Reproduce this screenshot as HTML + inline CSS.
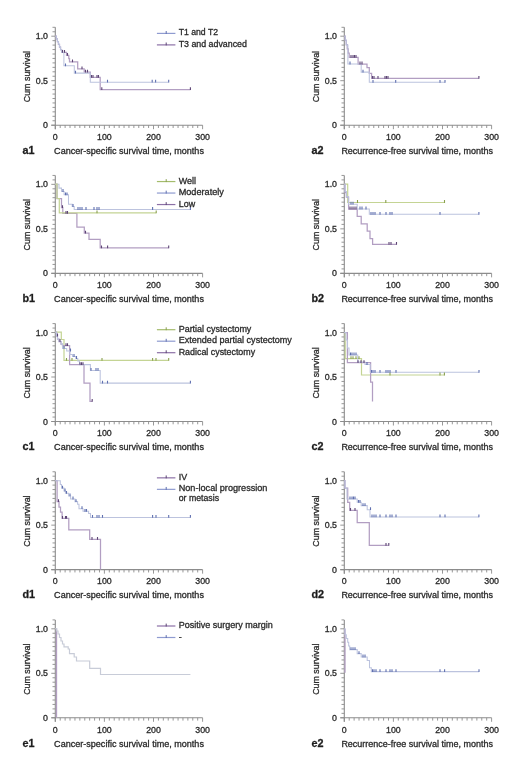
<!DOCTYPE html>
<html><head><meta charset="utf-8"><title>Survival curves</title>
<style>
html,body{margin:0;padding:0;background:#fff;}
body{width:520px;height:778px;overflow:hidden;}
svg{display:block;will-change:transform;}
text{font-family:"Liberation Sans", sans-serif;fill:#2a2a2a;stroke:#2a2a2a;stroke-width:0.3px;}
.tl{font-size:8.8px;}
.yt{font-size:8.9px;}
.pl{font-size:10.8px;font-weight:bold;fill:#1a1a1a;}
.xt{font-size:9.05px;}
.lg{font-size:8.9px;}
</style></head>
<body>
<svg width="520" height="778" viewBox="0 0 520 778">
<rect width="520" height="778" fill="#fff"/>
<line x1="55.30" y1="27.30" x2="55.30" y2="129.20" stroke="#8c8c8c" stroke-width="1.1"/>
<line x1="51.30" y1="125.20" x2="202.60" y2="125.20" stroke="#8c8c8c" stroke-width="1.1"/>
<path d="M51.30 125.20H55.30M52.50 120.75H55.30M52.50 116.30H55.30M52.50 111.85H55.30M52.50 107.40H55.30M52.50 102.95H55.30M52.50 98.50H55.30M52.50 94.05H55.30M52.50 89.60H55.30M52.50 85.15H55.30M51.30 80.70H55.30M52.50 76.25H55.30M52.50 71.80H55.30M52.50 67.35H55.30M52.50 62.90H55.30M52.50 58.45H55.30M52.50 54.00H55.30M52.50 49.55H55.30M52.50 45.10H55.30M52.50 40.65H55.30M51.30 36.20H55.30M52.50 31.75H55.30M52.50 27.30H55.30M55.30 125.20V129.20M60.21 125.20V128.00M65.12 125.20V128.00M70.03 125.20V128.00M74.94 125.20V128.00M79.85 125.20V128.00M84.76 125.20V128.00M89.67 125.20V128.00M94.58 125.20V128.00M99.49 125.20V128.00M104.40 125.20V129.20M109.31 125.20V128.00M114.22 125.20V128.00M119.13 125.20V128.00M124.04 125.20V128.00M128.95 125.20V128.00M133.86 125.20V128.00M138.77 125.20V128.00M143.68 125.20V128.00M148.59 125.20V128.00M153.50 125.20V129.20M158.41 125.20V128.00M163.32 125.20V128.00M168.23 125.20V128.00M173.14 125.20V128.00M178.05 125.20V128.00M182.96 125.20V128.00M187.87 125.20V128.00M192.78 125.20V128.00M197.69 125.20V128.00M202.60 125.20V129.20" stroke="#8c8c8c" stroke-width="0.9" fill="none"/>
<text x="48.00" y="39.30" text-anchor="end" class="tl">1.0</text>
<text x="48.00" y="83.80" text-anchor="end" class="tl">0.5</text>
<text x="48.00" y="128.30" text-anchor="end" class="tl">0</text>
<text x="55.30" y="140.00" text-anchor="middle" class="tl">0</text>
<text x="104.40" y="140.00" text-anchor="middle" class="tl">100</text>
<text x="153.50" y="140.00" text-anchor="middle" class="tl">200</text>
<text x="202.60" y="140.00" text-anchor="middle" class="tl">300</text>
<text x="0" y="0" transform="translate(29.50,76.60) rotate(-90)" text-anchor="middle" class="yt">Cum survival</text>
<text x="22.40" y="154.00" class="pl">a1</text>
<text x="54.10" y="154.00" class="xt">Cancer-specific survival time, months</text>
<line x1="344.30" y1="27.30" x2="344.30" y2="129.20" stroke="#8c8c8c" stroke-width="1.1"/>
<line x1="340.30" y1="125.20" x2="491.60" y2="125.20" stroke="#8c8c8c" stroke-width="1.1"/>
<path d="M340.30 125.20H344.30M341.50 120.75H344.30M341.50 116.30H344.30M341.50 111.85H344.30M341.50 107.40H344.30M341.50 102.95H344.30M341.50 98.50H344.30M341.50 94.05H344.30M341.50 89.60H344.30M341.50 85.15H344.30M340.30 80.70H344.30M341.50 76.25H344.30M341.50 71.80H344.30M341.50 67.35H344.30M341.50 62.90H344.30M341.50 58.45H344.30M341.50 54.00H344.30M341.50 49.55H344.30M341.50 45.10H344.30M341.50 40.65H344.30M340.30 36.20H344.30M341.50 31.75H344.30M341.50 27.30H344.30M344.30 125.20V129.20M349.21 125.20V128.00M354.12 125.20V128.00M359.03 125.20V128.00M363.94 125.20V128.00M368.85 125.20V128.00M373.76 125.20V128.00M378.67 125.20V128.00M383.58 125.20V128.00M388.49 125.20V128.00M393.40 125.20V129.20M398.31 125.20V128.00M403.22 125.20V128.00M408.13 125.20V128.00M413.04 125.20V128.00M417.95 125.20V128.00M422.86 125.20V128.00M427.77 125.20V128.00M432.68 125.20V128.00M437.59 125.20V128.00M442.50 125.20V129.20M447.41 125.20V128.00M452.32 125.20V128.00M457.23 125.20V128.00M462.14 125.20V128.00M467.05 125.20V128.00M471.96 125.20V128.00M476.87 125.20V128.00M481.78 125.20V128.00M486.69 125.20V128.00M491.60 125.20V129.20" stroke="#8c8c8c" stroke-width="0.9" fill="none"/>
<text x="337.00" y="39.30" text-anchor="end" class="tl">1.0</text>
<text x="337.00" y="83.80" text-anchor="end" class="tl">0.5</text>
<text x="337.00" y="128.30" text-anchor="end" class="tl">0</text>
<text x="344.30" y="140.00" text-anchor="middle" class="tl">0</text>
<text x="393.40" y="140.00" text-anchor="middle" class="tl">100</text>
<text x="442.50" y="140.00" text-anchor="middle" class="tl">200</text>
<text x="491.60" y="140.00" text-anchor="middle" class="tl">300</text>
<text x="0" y="0" transform="translate(318.50,76.60) rotate(-90)" text-anchor="middle" class="yt">Cum survival</text>
<text x="311.40" y="154.00" class="pl">a2</text>
<text x="341.40" y="154.00" class="xt" style="font-size:8.97px">Recurrence-free survival time, months</text>
<line x1="55.30" y1="175.45" x2="55.30" y2="277.35" stroke="#8c8c8c" stroke-width="1.1"/>
<line x1="51.30" y1="273.35" x2="202.60" y2="273.35" stroke="#8c8c8c" stroke-width="1.1"/>
<path d="M51.30 273.35H55.30M52.50 268.90H55.30M52.50 264.45H55.30M52.50 260.00H55.30M52.50 255.55H55.30M52.50 251.10H55.30M52.50 246.65H55.30M52.50 242.20H55.30M52.50 237.75H55.30M52.50 233.30H55.30M51.30 228.85H55.30M52.50 224.40H55.30M52.50 219.95H55.30M52.50 215.50H55.30M52.50 211.05H55.30M52.50 206.60H55.30M52.50 202.15H55.30M52.50 197.70H55.30M52.50 193.25H55.30M52.50 188.80H55.30M51.30 184.35H55.30M52.50 179.90H55.30M52.50 175.45H55.30M55.30 273.35V277.35M60.21 273.35V276.15M65.12 273.35V276.15M70.03 273.35V276.15M74.94 273.35V276.15M79.85 273.35V276.15M84.76 273.35V276.15M89.67 273.35V276.15M94.58 273.35V276.15M99.49 273.35V276.15M104.40 273.35V277.35M109.31 273.35V276.15M114.22 273.35V276.15M119.13 273.35V276.15M124.04 273.35V276.15M128.95 273.35V276.15M133.86 273.35V276.15M138.77 273.35V276.15M143.68 273.35V276.15M148.59 273.35V276.15M153.50 273.35V277.35M158.41 273.35V276.15M163.32 273.35V276.15M168.23 273.35V276.15M173.14 273.35V276.15M178.05 273.35V276.15M182.96 273.35V276.15M187.87 273.35V276.15M192.78 273.35V276.15M197.69 273.35V276.15M202.60 273.35V277.35" stroke="#8c8c8c" stroke-width="0.9" fill="none"/>
<text x="48.00" y="187.45" text-anchor="end" class="tl">1.0</text>
<text x="48.00" y="231.95" text-anchor="end" class="tl">0.5</text>
<text x="48.00" y="276.45" text-anchor="end" class="tl">0</text>
<text x="55.30" y="288.15" text-anchor="middle" class="tl">0</text>
<text x="104.40" y="288.15" text-anchor="middle" class="tl">100</text>
<text x="153.50" y="288.15" text-anchor="middle" class="tl">200</text>
<text x="202.60" y="288.15" text-anchor="middle" class="tl">300</text>
<text x="0" y="0" transform="translate(29.50,224.75) rotate(-90)" text-anchor="middle" class="yt">Cum survival</text>
<text x="22.40" y="302.15" class="pl">b1</text>
<text x="54.10" y="302.15" class="xt">Cancer-specific survival time, months</text>
<line x1="344.30" y1="175.45" x2="344.30" y2="277.35" stroke="#8c8c8c" stroke-width="1.1"/>
<line x1="340.30" y1="273.35" x2="491.60" y2="273.35" stroke="#8c8c8c" stroke-width="1.1"/>
<path d="M340.30 273.35H344.30M341.50 268.90H344.30M341.50 264.45H344.30M341.50 260.00H344.30M341.50 255.55H344.30M341.50 251.10H344.30M341.50 246.65H344.30M341.50 242.20H344.30M341.50 237.75H344.30M341.50 233.30H344.30M340.30 228.85H344.30M341.50 224.40H344.30M341.50 219.95H344.30M341.50 215.50H344.30M341.50 211.05H344.30M341.50 206.60H344.30M341.50 202.15H344.30M341.50 197.70H344.30M341.50 193.25H344.30M341.50 188.80H344.30M340.30 184.35H344.30M341.50 179.90H344.30M341.50 175.45H344.30M344.30 273.35V277.35M349.21 273.35V276.15M354.12 273.35V276.15M359.03 273.35V276.15M363.94 273.35V276.15M368.85 273.35V276.15M373.76 273.35V276.15M378.67 273.35V276.15M383.58 273.35V276.15M388.49 273.35V276.15M393.40 273.35V277.35M398.31 273.35V276.15M403.22 273.35V276.15M408.13 273.35V276.15M413.04 273.35V276.15M417.95 273.35V276.15M422.86 273.35V276.15M427.77 273.35V276.15M432.68 273.35V276.15M437.59 273.35V276.15M442.50 273.35V277.35M447.41 273.35V276.15M452.32 273.35V276.15M457.23 273.35V276.15M462.14 273.35V276.15M467.05 273.35V276.15M471.96 273.35V276.15M476.87 273.35V276.15M481.78 273.35V276.15M486.69 273.35V276.15M491.60 273.35V277.35" stroke="#8c8c8c" stroke-width="0.9" fill="none"/>
<text x="337.00" y="187.45" text-anchor="end" class="tl">1.0</text>
<text x="337.00" y="231.95" text-anchor="end" class="tl">0.5</text>
<text x="337.00" y="276.45" text-anchor="end" class="tl">0</text>
<text x="344.30" y="288.15" text-anchor="middle" class="tl">0</text>
<text x="393.40" y="288.15" text-anchor="middle" class="tl">100</text>
<text x="442.50" y="288.15" text-anchor="middle" class="tl">200</text>
<text x="491.60" y="288.15" text-anchor="middle" class="tl">300</text>
<text x="0" y="0" transform="translate(318.50,224.75) rotate(-90)" text-anchor="middle" class="yt">Cum survival</text>
<text x="311.40" y="302.15" class="pl">b2</text>
<text x="341.40" y="302.15" class="xt" style="font-size:8.97px">Recurrence-free survival time, months</text>
<line x1="55.30" y1="323.60" x2="55.30" y2="425.50" stroke="#8c8c8c" stroke-width="1.1"/>
<line x1="51.30" y1="421.50" x2="202.60" y2="421.50" stroke="#8c8c8c" stroke-width="1.1"/>
<path d="M51.30 421.50H55.30M52.50 417.05H55.30M52.50 412.60H55.30M52.50 408.15H55.30M52.50 403.70H55.30M52.50 399.25H55.30M52.50 394.80H55.30M52.50 390.35H55.30M52.50 385.90H55.30M52.50 381.45H55.30M51.30 377.00H55.30M52.50 372.55H55.30M52.50 368.10H55.30M52.50 363.65H55.30M52.50 359.20H55.30M52.50 354.75H55.30M52.50 350.30H55.30M52.50 345.85H55.30M52.50 341.40H55.30M52.50 336.95H55.30M51.30 332.50H55.30M52.50 328.05H55.30M52.50 323.60H55.30M55.30 421.50V425.50M60.21 421.50V424.30M65.12 421.50V424.30M70.03 421.50V424.30M74.94 421.50V424.30M79.85 421.50V424.30M84.76 421.50V424.30M89.67 421.50V424.30M94.58 421.50V424.30M99.49 421.50V424.30M104.40 421.50V425.50M109.31 421.50V424.30M114.22 421.50V424.30M119.13 421.50V424.30M124.04 421.50V424.30M128.95 421.50V424.30M133.86 421.50V424.30M138.77 421.50V424.30M143.68 421.50V424.30M148.59 421.50V424.30M153.50 421.50V425.50M158.41 421.50V424.30M163.32 421.50V424.30M168.23 421.50V424.30M173.14 421.50V424.30M178.05 421.50V424.30M182.96 421.50V424.30M187.87 421.50V424.30M192.78 421.50V424.30M197.69 421.50V424.30M202.60 421.50V425.50" stroke="#8c8c8c" stroke-width="0.9" fill="none"/>
<text x="48.00" y="335.60" text-anchor="end" class="tl">1.0</text>
<text x="48.00" y="380.10" text-anchor="end" class="tl">0.5</text>
<text x="48.00" y="424.60" text-anchor="end" class="tl">0</text>
<text x="55.30" y="436.30" text-anchor="middle" class="tl">0</text>
<text x="104.40" y="436.30" text-anchor="middle" class="tl">100</text>
<text x="153.50" y="436.30" text-anchor="middle" class="tl">200</text>
<text x="202.60" y="436.30" text-anchor="middle" class="tl">300</text>
<text x="0" y="0" transform="translate(29.50,372.90) rotate(-90)" text-anchor="middle" class="yt">Cum survival</text>
<text x="22.40" y="450.30" class="pl">c1</text>
<text x="54.10" y="450.30" class="xt">Cancer-specific survival time, months</text>
<line x1="344.30" y1="323.60" x2="344.30" y2="425.50" stroke="#8c8c8c" stroke-width="1.1"/>
<line x1="340.30" y1="421.50" x2="491.60" y2="421.50" stroke="#8c8c8c" stroke-width="1.1"/>
<path d="M340.30 421.50H344.30M341.50 417.05H344.30M341.50 412.60H344.30M341.50 408.15H344.30M341.50 403.70H344.30M341.50 399.25H344.30M341.50 394.80H344.30M341.50 390.35H344.30M341.50 385.90H344.30M341.50 381.45H344.30M340.30 377.00H344.30M341.50 372.55H344.30M341.50 368.10H344.30M341.50 363.65H344.30M341.50 359.20H344.30M341.50 354.75H344.30M341.50 350.30H344.30M341.50 345.85H344.30M341.50 341.40H344.30M341.50 336.95H344.30M340.30 332.50H344.30M341.50 328.05H344.30M341.50 323.60H344.30M344.30 421.50V425.50M349.21 421.50V424.30M354.12 421.50V424.30M359.03 421.50V424.30M363.94 421.50V424.30M368.85 421.50V424.30M373.76 421.50V424.30M378.67 421.50V424.30M383.58 421.50V424.30M388.49 421.50V424.30M393.40 421.50V425.50M398.31 421.50V424.30M403.22 421.50V424.30M408.13 421.50V424.30M413.04 421.50V424.30M417.95 421.50V424.30M422.86 421.50V424.30M427.77 421.50V424.30M432.68 421.50V424.30M437.59 421.50V424.30M442.50 421.50V425.50M447.41 421.50V424.30M452.32 421.50V424.30M457.23 421.50V424.30M462.14 421.50V424.30M467.05 421.50V424.30M471.96 421.50V424.30M476.87 421.50V424.30M481.78 421.50V424.30M486.69 421.50V424.30M491.60 421.50V425.50" stroke="#8c8c8c" stroke-width="0.9" fill="none"/>
<text x="337.00" y="335.60" text-anchor="end" class="tl">1.0</text>
<text x="337.00" y="380.10" text-anchor="end" class="tl">0.5</text>
<text x="337.00" y="424.60" text-anchor="end" class="tl">0</text>
<text x="344.30" y="436.30" text-anchor="middle" class="tl">0</text>
<text x="393.40" y="436.30" text-anchor="middle" class="tl">100</text>
<text x="442.50" y="436.30" text-anchor="middle" class="tl">200</text>
<text x="491.60" y="436.30" text-anchor="middle" class="tl">300</text>
<text x="0" y="0" transform="translate(318.50,372.90) rotate(-90)" text-anchor="middle" class="yt">Cum survival</text>
<text x="311.40" y="450.30" class="pl">c2</text>
<text x="341.40" y="450.30" class="xt" style="font-size:8.97px">Recurrence-free survival time, months</text>
<line x1="55.30" y1="471.75" x2="55.30" y2="573.65" stroke="#8c8c8c" stroke-width="1.1"/>
<line x1="51.30" y1="569.65" x2="202.60" y2="569.65" stroke="#8c8c8c" stroke-width="1.1"/>
<path d="M51.30 569.65H55.30M52.50 565.20H55.30M52.50 560.75H55.30M52.50 556.30H55.30M52.50 551.85H55.30M52.50 547.40H55.30M52.50 542.95H55.30M52.50 538.50H55.30M52.50 534.05H55.30M52.50 529.60H55.30M51.30 525.15H55.30M52.50 520.70H55.30M52.50 516.25H55.30M52.50 511.80H55.30M52.50 507.35H55.30M52.50 502.90H55.30M52.50 498.45H55.30M52.50 494.00H55.30M52.50 489.55H55.30M52.50 485.10H55.30M51.30 480.65H55.30M52.50 476.20H55.30M52.50 471.75H55.30M55.30 569.65V573.65M60.21 569.65V572.45M65.12 569.65V572.45M70.03 569.65V572.45M74.94 569.65V572.45M79.85 569.65V572.45M84.76 569.65V572.45M89.67 569.65V572.45M94.58 569.65V572.45M99.49 569.65V572.45M104.40 569.65V573.65M109.31 569.65V572.45M114.22 569.65V572.45M119.13 569.65V572.45M124.04 569.65V572.45M128.95 569.65V572.45M133.86 569.65V572.45M138.77 569.65V572.45M143.68 569.65V572.45M148.59 569.65V572.45M153.50 569.65V573.65M158.41 569.65V572.45M163.32 569.65V572.45M168.23 569.65V572.45M173.14 569.65V572.45M178.05 569.65V572.45M182.96 569.65V572.45M187.87 569.65V572.45M192.78 569.65V572.45M197.69 569.65V572.45M202.60 569.65V573.65" stroke="#8c8c8c" stroke-width="0.9" fill="none"/>
<text x="48.00" y="483.75" text-anchor="end" class="tl">1.0</text>
<text x="48.00" y="528.25" text-anchor="end" class="tl">0.5</text>
<text x="48.00" y="572.75" text-anchor="end" class="tl">0</text>
<text x="55.30" y="584.45" text-anchor="middle" class="tl">0</text>
<text x="104.40" y="584.45" text-anchor="middle" class="tl">100</text>
<text x="153.50" y="584.45" text-anchor="middle" class="tl">200</text>
<text x="202.60" y="584.45" text-anchor="middle" class="tl">300</text>
<text x="0" y="0" transform="translate(29.50,521.05) rotate(-90)" text-anchor="middle" class="yt">Cum survival</text>
<text x="22.40" y="598.45" class="pl">d1</text>
<text x="54.10" y="598.45" class="xt">Cancer-specific survival time, months</text>
<line x1="344.30" y1="471.75" x2="344.30" y2="573.65" stroke="#8c8c8c" stroke-width="1.1"/>
<line x1="340.30" y1="569.65" x2="491.60" y2="569.65" stroke="#8c8c8c" stroke-width="1.1"/>
<path d="M340.30 569.65H344.30M341.50 565.20H344.30M341.50 560.75H344.30M341.50 556.30H344.30M341.50 551.85H344.30M341.50 547.40H344.30M341.50 542.95H344.30M341.50 538.50H344.30M341.50 534.05H344.30M341.50 529.60H344.30M340.30 525.15H344.30M341.50 520.70H344.30M341.50 516.25H344.30M341.50 511.80H344.30M341.50 507.35H344.30M341.50 502.90H344.30M341.50 498.45H344.30M341.50 494.00H344.30M341.50 489.55H344.30M341.50 485.10H344.30M340.30 480.65H344.30M341.50 476.20H344.30M341.50 471.75H344.30M344.30 569.65V573.65M349.21 569.65V572.45M354.12 569.65V572.45M359.03 569.65V572.45M363.94 569.65V572.45M368.85 569.65V572.45M373.76 569.65V572.45M378.67 569.65V572.45M383.58 569.65V572.45M388.49 569.65V572.45M393.40 569.65V573.65M398.31 569.65V572.45M403.22 569.65V572.45M408.13 569.65V572.45M413.04 569.65V572.45M417.95 569.65V572.45M422.86 569.65V572.45M427.77 569.65V572.45M432.68 569.65V572.45M437.59 569.65V572.45M442.50 569.65V573.65M447.41 569.65V572.45M452.32 569.65V572.45M457.23 569.65V572.45M462.14 569.65V572.45M467.05 569.65V572.45M471.96 569.65V572.45M476.87 569.65V572.45M481.78 569.65V572.45M486.69 569.65V572.45M491.60 569.65V573.65" stroke="#8c8c8c" stroke-width="0.9" fill="none"/>
<text x="337.00" y="483.75" text-anchor="end" class="tl">1.0</text>
<text x="337.00" y="528.25" text-anchor="end" class="tl">0.5</text>
<text x="337.00" y="572.75" text-anchor="end" class="tl">0</text>
<text x="344.30" y="584.45" text-anchor="middle" class="tl">0</text>
<text x="393.40" y="584.45" text-anchor="middle" class="tl">100</text>
<text x="442.50" y="584.45" text-anchor="middle" class="tl">200</text>
<text x="491.60" y="584.45" text-anchor="middle" class="tl">300</text>
<text x="0" y="0" transform="translate(318.50,521.05) rotate(-90)" text-anchor="middle" class="yt">Cum survival</text>
<text x="311.40" y="598.45" class="pl">d2</text>
<text x="341.40" y="598.45" class="xt" style="font-size:8.97px">Recurrence-free survival time, months</text>
<line x1="55.30" y1="619.90" x2="55.30" y2="721.80" stroke="#8c8c8c" stroke-width="1.1"/>
<line x1="51.30" y1="717.80" x2="202.60" y2="717.80" stroke="#8c8c8c" stroke-width="1.1"/>
<path d="M51.30 717.80H55.30M52.50 713.35H55.30M52.50 708.90H55.30M52.50 704.45H55.30M52.50 700.00H55.30M52.50 695.55H55.30M52.50 691.10H55.30M52.50 686.65H55.30M52.50 682.20H55.30M52.50 677.75H55.30M51.30 673.30H55.30M52.50 668.85H55.30M52.50 664.40H55.30M52.50 659.95H55.30M52.50 655.50H55.30M52.50 651.05H55.30M52.50 646.60H55.30M52.50 642.15H55.30M52.50 637.70H55.30M52.50 633.25H55.30M51.30 628.80H55.30M52.50 624.35H55.30M52.50 619.90H55.30M55.30 717.80V721.80M60.21 717.80V720.60M65.12 717.80V720.60M70.03 717.80V720.60M74.94 717.80V720.60M79.85 717.80V720.60M84.76 717.80V720.60M89.67 717.80V720.60M94.58 717.80V720.60M99.49 717.80V720.60M104.40 717.80V721.80M109.31 717.80V720.60M114.22 717.80V720.60M119.13 717.80V720.60M124.04 717.80V720.60M128.95 717.80V720.60M133.86 717.80V720.60M138.77 717.80V720.60M143.68 717.80V720.60M148.59 717.80V720.60M153.50 717.80V721.80M158.41 717.80V720.60M163.32 717.80V720.60M168.23 717.80V720.60M173.14 717.80V720.60M178.05 717.80V720.60M182.96 717.80V720.60M187.87 717.80V720.60M192.78 717.80V720.60M197.69 717.80V720.60M202.60 717.80V721.80" stroke="#8c8c8c" stroke-width="0.9" fill="none"/>
<text x="48.00" y="631.90" text-anchor="end" class="tl">1.0</text>
<text x="48.00" y="676.40" text-anchor="end" class="tl">0.5</text>
<text x="48.00" y="720.90" text-anchor="end" class="tl">0</text>
<text x="55.30" y="732.60" text-anchor="middle" class="tl">0</text>
<text x="104.40" y="732.60" text-anchor="middle" class="tl">100</text>
<text x="153.50" y="732.60" text-anchor="middle" class="tl">200</text>
<text x="202.60" y="732.60" text-anchor="middle" class="tl">300</text>
<text x="0" y="0" transform="translate(29.50,669.20) rotate(-90)" text-anchor="middle" class="yt">Cum survival</text>
<text x="22.40" y="746.60" class="pl">e1</text>
<text x="54.10" y="746.60" class="xt">Cancer-specific survival time, months</text>
<line x1="344.30" y1="619.90" x2="344.30" y2="721.80" stroke="#8c8c8c" stroke-width="1.1"/>
<line x1="340.30" y1="717.80" x2="491.60" y2="717.80" stroke="#8c8c8c" stroke-width="1.1"/>
<path d="M340.30 717.80H344.30M341.50 713.35H344.30M341.50 708.90H344.30M341.50 704.45H344.30M341.50 700.00H344.30M341.50 695.55H344.30M341.50 691.10H344.30M341.50 686.65H344.30M341.50 682.20H344.30M341.50 677.75H344.30M340.30 673.30H344.30M341.50 668.85H344.30M341.50 664.40H344.30M341.50 659.95H344.30M341.50 655.50H344.30M341.50 651.05H344.30M341.50 646.60H344.30M341.50 642.15H344.30M341.50 637.70H344.30M341.50 633.25H344.30M340.30 628.80H344.30M341.50 624.35H344.30M341.50 619.90H344.30M344.30 717.80V721.80M349.21 717.80V720.60M354.12 717.80V720.60M359.03 717.80V720.60M363.94 717.80V720.60M368.85 717.80V720.60M373.76 717.80V720.60M378.67 717.80V720.60M383.58 717.80V720.60M388.49 717.80V720.60M393.40 717.80V721.80M398.31 717.80V720.60M403.22 717.80V720.60M408.13 717.80V720.60M413.04 717.80V720.60M417.95 717.80V720.60M422.86 717.80V720.60M427.77 717.80V720.60M432.68 717.80V720.60M437.59 717.80V720.60M442.50 717.80V721.80M447.41 717.80V720.60M452.32 717.80V720.60M457.23 717.80V720.60M462.14 717.80V720.60M467.05 717.80V720.60M471.96 717.80V720.60M476.87 717.80V720.60M481.78 717.80V720.60M486.69 717.80V720.60M491.60 717.80V721.80" stroke="#8c8c8c" stroke-width="0.9" fill="none"/>
<text x="337.00" y="631.90" text-anchor="end" class="tl">1.0</text>
<text x="337.00" y="676.40" text-anchor="end" class="tl">0.5</text>
<text x="337.00" y="720.90" text-anchor="end" class="tl">0</text>
<text x="344.30" y="732.60" text-anchor="middle" class="tl">0</text>
<text x="393.40" y="732.60" text-anchor="middle" class="tl">100</text>
<text x="442.50" y="732.60" text-anchor="middle" class="tl">200</text>
<text x="491.60" y="732.60" text-anchor="middle" class="tl">300</text>
<text x="0" y="0" transform="translate(318.50,669.20) rotate(-90)" text-anchor="middle" class="yt">Cum survival</text>
<text x="311.40" y="746.60" class="pl">e2</text>
<text x="341.40" y="746.60" class="xt" style="font-size:8.97px">Recurrence-free survival time, months</text>
<path d="M55.30 36.20 L56.35 36.20 L56.35 38.90 L57.40 38.90 L57.40 41.60 L58.45 41.60 L58.45 44.30 L59.50 44.30 L59.50 47.00 L60.55 47.00 L60.55 49.70 L61.60 49.70 L61.60 52.40 L66.50 52.40 L66.50 55.40 L68.80 55.40 L68.80 58.50 L69.50 58.50 L69.50 61.90 L77.70 61.90 L77.70 68.80 L84.20 68.80 L84.20 72.20 L90.30 72.20 L90.30 77.40 L100.20 77.40 L100.20 89.70 L190.40 89.70" stroke="#b29ec2" stroke-width="1.25" fill="none" />
<path d="M55.30 36.20 L56.35 36.20 L56.35 38.90 L57.40 38.90 L57.40 41.60 L58.45 41.60 L58.45 44.30 L59.50 44.30 L59.50 47.00 L60.55 47.00 L60.55 49.70 L61.60 49.70 L61.60 52.40 L63.90 52.40 L63.90 65.80 L74.30 65.80 L74.30 73.10 L90.30 73.10 L90.30 82.20 L168.70 82.20" stroke="#bcc3de" stroke-width="1.05" fill="none" />
<path d="M62.50 52.80V50.00M64.50 52.80V50.00M67.50 55.80V53.00M72.50 62.30V59.50M82.00 69.20V66.40M85.50 72.60V69.80M87.50 72.60V69.80M91.50 77.80V75.00M93.00 77.80V75.00M97.00 77.80V75.00M98.50 77.80V75.00M101.80 90.10V87.30M190.40 90.10V87.30" stroke="#5c4474" stroke-width="1.1" fill="none"/>
<path d="M65.50 66.20V63.40M75.50 73.50V70.70M107.50 82.60V79.80M152.20 82.60V79.80M155.60 82.60V79.80M168.70 82.60V79.80" stroke="#6070b0" stroke-width="1.1" fill="none"/>
<line x1="156.9" y1="33.40" x2="175.4" y2="33.40" stroke="#8f9bd0" stroke-width="1.2"/>
<line x1="166.2" y1="33.90" x2="166.2" y2="31.00" stroke="#6070b0" stroke-width="1"/>
<text x="178.7" y="35.40" class="lg" style="font-size:8.68px">T1 and T2</text>
<line x1="156.9" y1="44.90" x2="175.4" y2="44.90" stroke="#8c70a6" stroke-width="1.2"/>
<line x1="166.2" y1="45.40" x2="166.2" y2="42.50" stroke="#5c4474" stroke-width="1"/>
<text x="178.7" y="46.90" class="lg" style="font-size:8.84px">T3 and advanced</text>
<path d="M344.30 36.20 L345.28 36.20 L345.28 40.42 L346.26 40.42 L346.26 44.64 L347.24 44.64 L347.24 48.86 L348.22 48.86 L348.22 53.08 L349.20 53.08 L349.20 57.30 L358.10 57.30 L358.10 64.00 L367.00 64.00 L367.00 67.50 L369.30 67.50 L369.30 73.30 L371.60 73.30 L371.60 78.30 L478.90 78.30" stroke="#b29ec2" stroke-width="1.25" fill="none" />
<path d="M344.30 36.20 L345.20 36.20 L345.20 40.00 L346.20 40.00 L346.20 45.00 L347.90 45.00 L347.90 64.00 L361.20 64.00 L361.20 72.10 L369.30 72.10 L369.30 82.30 L445.00 82.30" stroke="#bcc3de" stroke-width="1.05" fill="none" />
<path d="M351.00 57.70V54.90M353.00 57.70V54.90M354.50 57.70V54.90M356.00 57.70V54.90M360.00 64.40V61.60M362.00 64.40V61.60M372.50 78.70V75.90M374.00 78.70V75.90M378.00 78.70V75.90M385.00 78.70V75.90M386.50 78.70V75.90M388.00 78.70V75.90M478.90 78.70V75.90" stroke="#5c4474" stroke-width="1.1" fill="none"/>
<path d="M350.00 64.40V61.60M363.00 72.50V69.70M373.00 82.70V79.90M395.70 82.70V79.90M440.00 82.70V79.90M445.00 82.70V79.90" stroke="#6070b0" stroke-width="1.1" fill="none"/>
<path d="M55.30 184.20 L57.00 184.20 L57.00 198.50 L61.50 198.50 L61.50 207.70 L62.80 207.70 L62.80 213.30 L76.90 213.30 L76.90 227.10 L84.30 227.10 L84.30 233.20 L89.00 233.20 L89.00 239.30 L100.20 239.30 L100.20 247.90 L168.70 247.90" stroke="#b29ec2" stroke-width="1.25" fill="none" />
<path d="M55.30 184.20 L59.00 184.20 L59.00 188.10 L61.50 188.10 L61.50 191.50 L64.10 191.50 L64.10 194.80 L68.50 194.80 L68.50 204.20 L72.20 204.20 L72.20 206.50 L74.20 206.50 L74.20 209.50 L190.40 209.50" stroke="#bcc3de" stroke-width="1.05" fill="none" />
<path d="M55.30 184.20 L57.00 184.20 L57.00 198.50 L59.30 198.50 L59.30 212.80 L156.20 212.80" stroke="#c4d494" stroke-width="1.2" fill="none" />
<path d="M97.00 213.20V210.40M156.20 213.20V210.40" stroke="#8aa050" stroke-width="1.1" fill="none"/>
<path d="M62.50 208.10V205.30M66.00 213.70V210.90M67.50 213.70V210.90M85.50 233.60V230.80M101.50 248.30V245.50M107.60 248.30V245.50M168.70 248.30V245.50" stroke="#5c4474" stroke-width="1.1" fill="none"/>
<path d="M63.00 191.90V189.10M65.50 195.20V192.40M67.00 195.20V192.40M73.00 206.90V204.10M78.00 209.90V207.10M80.00 209.90V207.10M82.00 209.90V207.10M86.00 209.90V207.10M94.00 209.90V207.10M97.00 209.90V207.10M99.00 209.90V207.10M152.60 209.90V207.10M190.40 209.90V207.10" stroke="#6070b0" stroke-width="1.1" fill="none"/>
<line x1="156.9" y1="181.55" x2="175.4" y2="181.55" stroke="#a4bc6c" stroke-width="1.2"/>
<line x1="166.2" y1="182.05" x2="166.2" y2="179.15" stroke="#8aa050" stroke-width="1"/>
<text x="178.7" y="183.55" class="lg" style="font-size:8.95px">Well</text>
<line x1="156.9" y1="193.05" x2="175.4" y2="193.05" stroke="#8f9bd0" stroke-width="1.2"/>
<line x1="166.2" y1="193.55" x2="166.2" y2="190.65" stroke="#6070b0" stroke-width="1"/>
<text x="178.7" y="195.05" class="lg" style="font-size:9.13px">Moderately</text>
<line x1="156.9" y1="204.55" x2="175.4" y2="204.55" stroke="#8c70a6" stroke-width="1.2"/>
<line x1="166.2" y1="205.05" x2="166.2" y2="202.15" stroke="#5c4474" stroke-width="1"/>
<text x="178.7" y="206.55" class="lg" style="font-size:8.95px">Low</text>
<path d="M344.30 184.20 L347.70 184.20 L347.70 202.50 L444.50 202.50" stroke="#c4d494" stroke-width="1.2" fill="none" />
<path d="M344.30 184.20 L345.00 184.20 L345.00 192.50 L346.40 192.50 L346.40 197.00 L348.60 197.00 L348.60 209.00 L357.20 209.00 L357.20 216.40 L361.20 216.40 L361.20 223.80 L367.20 223.80 L367.20 231.20 L370.00 231.20 L370.00 238.60 L372.60 238.60 L372.60 244.40 L396.50 244.40" stroke="#b29ec2" stroke-width="1.25" fill="none" />
<path d="M344.30 184.20 L345.00 184.20 L345.00 191.50 L346.40 191.50 L346.40 196.80 L348.40 196.80 L348.40 204.20 L357.20 204.20 L357.20 209.00 L369.30 209.00 L369.30 214.30 L478.90 214.30" stroke="#bcc3de" stroke-width="1.05" fill="none" />
<path d="M357.50 202.90V200.10M385.80 202.90V200.10M444.50 202.90V200.10" stroke="#8aa050" stroke-width="1.1" fill="none"/>
<path d="M350.00 209.40V206.60M352.00 209.40V206.60M354.00 209.40V206.60M356.00 209.40V206.60M389.00 244.80V242.00M391.00 244.80V242.00M396.50 244.80V242.00" stroke="#5c4474" stroke-width="1.1" fill="none"/>
<path d="M351.00 204.60V201.80M353.00 204.60V201.80M360.00 209.40V206.60M362.00 209.40V206.60M366.00 209.40V206.60M371.00 214.70V211.90M373.00 214.70V211.90M375.00 214.70V211.90M380.00 214.70V211.90M386.00 214.70V211.90M390.00 214.70V211.90M392.00 214.70V211.90M440.00 214.70V211.90M478.90 214.70V211.90" stroke="#6070b0" stroke-width="1.1" fill="none"/>
<path d="M55.30 332.20 L61.30 332.20 L61.30 339.50 L64.00 339.50 L64.00 360.40 L168.70 360.40" stroke="#c4d494" stroke-width="1.2" fill="none" />
<path d="M55.30 332.20 L56.50 332.20 L56.50 336.00 L57.50 336.00 L57.50 339.00 L59.00 339.00 L59.00 341.50 L61.00 341.50 L61.00 344.00 L62.50 344.00 L62.50 345.60 L69.60 345.60 L69.60 364.60 L84.00 364.60 L84.00 383.10 L90.00 383.10 L90.00 401.30 L92.20 401.30" stroke="#b29ec2" stroke-width="1.25" fill="none" />
<path d="M55.30 332.20 L56.50 332.20 L56.50 336.00 L57.50 336.00 L57.50 339.00 L59.00 339.00 L59.00 341.50 L61.00 341.50 L61.00 344.00 L62.50 344.00 L62.50 348.40 L66.70 348.40 L66.70 351.00 L69.80 351.00 L69.80 354.50 L72.50 354.50 L72.50 356.50 L75.90 356.50 L75.90 358.50 L77.80 358.50 L77.80 361.00 L79.50 361.00 L79.50 364.60 L90.40 364.60 L90.40 370.40 L100.20 370.40 L100.20 383.10 L190.40 383.10" stroke="#bcc3de" stroke-width="1.05" fill="none" />
<path d="M66.50 360.80V358.00M72.00 360.80V358.00M102.00 360.80V358.00M152.60 360.80V358.00M156.00 360.80V358.00M168.70 360.80V358.00" stroke="#8aa050" stroke-width="1.1" fill="none"/>
<path d="M57.50 336.40V333.60M60.00 341.90V339.10M66.00 346.00V343.20M67.50 346.00V343.20M80.00 365.00V362.20M81.50 365.00V362.20M83.00 365.00V362.20M92.20 401.70V398.90" stroke="#5c4474" stroke-width="1.1" fill="none"/>
<path d="M64.00 348.80V346.00M70.50 351.40V348.60M74.00 356.90V354.10M76.50 358.90V356.10M91.00 370.80V368.00M96.00 370.80V368.00M98.00 370.80V368.00M102.50 383.50V380.70M107.50 383.50V380.70M190.40 383.50V380.70" stroke="#6070b0" stroke-width="1.1" fill="none"/>
<line x1="156.9" y1="329.70" x2="175.4" y2="329.70" stroke="#a4bc6c" stroke-width="1.2"/>
<line x1="166.2" y1="330.20" x2="166.2" y2="327.30" stroke="#8aa050" stroke-width="1"/>
<text x="178.7" y="331.70" class="lg" style="font-size:8.96px">Partial cystectomy</text>
<line x1="156.9" y1="341.20" x2="175.4" y2="341.20" stroke="#8f9bd0" stroke-width="1.2"/>
<line x1="166.2" y1="341.70" x2="166.2" y2="338.80" stroke="#6070b0" stroke-width="1"/>
<text x="178.7" y="343.20" class="lg" style="font-size:9.05px">Extended partial cystectomy</text>
<line x1="156.9" y1="352.70" x2="175.4" y2="352.70" stroke="#8c70a6" stroke-width="1.2"/>
<line x1="166.2" y1="353.20" x2="166.2" y2="350.30" stroke="#5c4474" stroke-width="1"/>
<text x="178.7" y="354.70" class="lg" style="font-size:8.89px">Radical cystectomy</text>
<path d="M344.30 332.50 L345.20 332.50 L345.20 358.60 L361.50 358.60 L361.50 375.00 L444.40 375.00" stroke="#c4d494" stroke-width="1.2" fill="none" />
<path d="M344.30 332.50 L347.40 332.50 L347.40 362.70 L370.60 362.70 L370.60 382.00 L372.50 382.00 L372.50 401.60" stroke="#b29ec2" stroke-width="1.25" fill="none" />
<path d="M344.30 332.50 L346.00 332.50 L346.00 340.00 L347.50 340.00 L347.50 348.00 L349.00 348.00 L349.00 354.90 L357.80 354.90 L357.80 362.00 L365.00 362.00 L365.00 364.50 L370.20 364.50 L370.20 372.30 L479.00 372.30" stroke="#bcc3de" stroke-width="1.05" fill="none" />
<path d="M351.00 359.00V356.20M353.00 359.00V356.20M356.00 359.00V356.20M359.00 359.00V356.20M390.00 375.40V372.60M440.00 375.40V372.60M444.40 375.40V372.60" stroke="#8aa050" stroke-width="1.1" fill="none"/>
<path d="M358.00 363.10V360.30M361.00 363.10V360.30M364.00 363.10V360.30" stroke="#5c4474" stroke-width="1.1" fill="none"/>
<path d="M350.50 355.30V352.50M352.00 355.30V352.50M354.00 355.30V352.50M356.00 355.30V352.50M367.00 364.90V362.10M371.50 372.70V369.90M373.00 372.70V369.90M375.00 372.70V369.90M380.00 372.70V369.90M386.00 372.70V369.90M388.00 372.70V369.90M390.00 372.70V369.90M396.00 372.70V369.90M479.00 372.70V369.90" stroke="#6070b0" stroke-width="1.1" fill="none"/>
<path d="M55.30 480.70 L57.10 480.70 L57.10 501.60 L59.00 501.60 L59.00 507.00 L60.50 507.00 L60.50 512.00 L62.10 512.00 L62.10 518.40 L68.80 518.40 L68.80 529.90 L89.70 529.90 L89.70 539.30 L100.50 539.30 L100.50 569.50" stroke="#b29ec2" stroke-width="1.25" fill="none" />
<path d="M55.30 480.70 L60.30 480.70 L60.30 484.50 L61.50 484.50 L61.50 488.10 L64.00 488.10 L64.00 491.00 L65.40 491.00 L65.40 493.30 L68.60 493.30 L68.60 495.90 L70.60 495.90 L70.60 499.00 L75.00 499.00 L75.00 501.60 L77.60 501.60 L77.60 504.20 L79.00 504.20 L79.00 508.70 L83.00 508.70 L83.00 511.30 L88.60 511.30 L88.60 513.50 L90.50 513.50 L90.50 517.40 L190.40 517.40" stroke="#bcc3de" stroke-width="1.05" fill="none" />
<path d="M58.50 502.00V499.20M62.50 518.80V516.00M65.50 518.80V516.00M66.50 518.80V516.00M92.00 539.70V536.90M97.50 539.70V536.90" stroke="#5c4474" stroke-width="1.1" fill="none"/>
<path d="M62.50 488.50V485.70M65.00 491.40V488.60M66.50 493.70V490.90M70.00 496.30V493.50M73.00 499.40V496.60M76.00 502.00V499.20M82.00 509.10V506.30M85.00 511.70V508.90M86.50 511.70V508.90M92.50 517.80V515.00M97.00 517.80V515.00M99.00 517.80V515.00M102.50 517.80V515.00M152.60 517.80V515.00M156.00 517.80V515.00M168.70 517.80V515.00M190.40 517.80V515.00" stroke="#6070b0" stroke-width="1.1" fill="none"/>
<line x1="156.9" y1="477.85" x2="175.4" y2="477.85" stroke="#8c70a6" stroke-width="1.2"/>
<line x1="166.2" y1="478.35" x2="166.2" y2="475.45" stroke="#5c4474" stroke-width="1"/>
<text x="178.7" y="479.85" class="lg" style="font-size:8.95px">IV</text>
<line x1="156.9" y1="489.35" x2="175.4" y2="489.35" stroke="#8f9bd0" stroke-width="1.2"/>
<line x1="166.2" y1="489.85" x2="166.2" y2="486.95" stroke="#6070b0" stroke-width="1"/>
<text x="178.7" y="491.35" class="lg" style="font-size:9.14px">Non-local progression</text>
<text x="178.7" y="501.45" class="lg" style="font-size:8.76px">or metasis</text>
<path d="M344.30 480.70 L345.00 480.70 L345.00 488.10 L347.70 488.10 L347.70 502.30 L349.70 502.30 L349.70 510.30 L357.20 510.30 L357.20 522.50 L369.30 522.50 L369.30 545.30 L388.80 545.30" stroke="#b29ec2" stroke-width="1.25" fill="none" />
<path d="M344.30 480.70 L345.00 480.70 L345.00 488.00 L347.00 488.00 L347.00 498.90 L357.20 498.90 L357.20 502.30 L361.20 502.30 L361.20 505.60 L367.20 505.60 L367.20 509.70 L370.00 509.70 L370.00 516.90 L478.90 516.90" stroke="#bcc3de" stroke-width="1.05" fill="none" />
<path d="M350.50 510.70V507.90M355.00 510.70V507.90M386.00 545.70V542.90M388.80 545.70V542.90" stroke="#5c4474" stroke-width="1.1" fill="none"/>
<path d="M350.00 499.30V496.50M352.00 499.30V496.50M353.50 499.30V496.50M355.00 499.30V496.50M358.50 502.70V499.90M360.00 502.70V499.90M363.00 506.00V503.20M365.00 506.00V503.20M370.50 510.10V507.30M372.00 517.30V514.50M374.00 517.30V514.50M376.00 517.30V514.50M380.00 517.30V514.50M386.00 517.30V514.50M390.00 517.30V514.50M392.00 517.30V514.50M396.00 517.30V514.50M440.00 517.30V514.50M445.00 517.30V514.50M478.90 517.30V514.50" stroke="#6070b0" stroke-width="1.1" fill="none"/>
<path d="M56.50 628.70 L56.50 717.60" stroke="#b29ec2" stroke-width="1.3" fill="none" />
<path d="M55.30 628.70 L56.70 628.70 L56.70 631.00 L58.00 631.00 L58.00 634.00 L59.50 634.00 L59.50 637.50 L61.00 637.50 L61.00 641.00 L62.50 641.00 L62.50 644.00 L64.00 644.00 L64.00 646.90 L68.20 646.90 L68.20 649.00 L69.50 649.00 L69.50 653.60 L74.20 653.60 L74.20 657.00 L76.50 657.00 L76.50 661.00 L89.70 661.00 L89.70 668.40 L100.50 668.40 L100.50 674.50 L190.40 674.50" stroke="#c8ccd8" stroke-width="1.2" fill="none" />
<line x1="156.9" y1="626.00" x2="175.4" y2="626.00" stroke="#8c70a6" stroke-width="1.2"/>
<line x1="166.2" y1="626.50" x2="166.2" y2="623.60" stroke="#5c4474" stroke-width="1"/>
<text x="178.7" y="628.00" class="lg" style="font-size:9.02px">Positive surgery margin</text>
<line x1="156.9" y1="637.50" x2="175.4" y2="637.50" stroke="#8f9bd0" stroke-width="1.2"/>
<line x1="166.2" y1="638.00" x2="166.2" y2="635.10" stroke="#6070b0" stroke-width="1"/>
<text x="178.7" y="639.50" class="lg" style="font-size:8.95px">-</text>
<path d="M345.00 628.70 L345.00 672.70" stroke="#b29ec2" stroke-width="1.3" fill="none" />
<path d="M344.30 628.70 L345.00 628.70 L345.00 634.80 L346.30 634.80 L346.30 638.50 L347.70 638.50 L347.70 642.20 L348.70 642.20 L348.70 646.00 L349.70 646.00 L349.70 649.60 L357.20 649.60 L357.20 653.60 L361.20 653.60 L361.20 657.00 L367.20 657.00 L367.20 660.40 L369.50 660.40 L369.50 667.80 L371.30 667.80 L371.30 671.60 L479.00 671.60" stroke="#bcc3de" stroke-width="1.05" fill="none" />
<path d="M351.00 650.00V647.20M353.00 650.00V647.20M355.00 650.00V647.20M359.00 654.00V651.20M363.00 657.40V654.60M365.00 657.40V654.60M372.50 672.00V669.20M374.00 672.00V669.20M376.00 672.00V669.20M380.00 672.00V669.20M386.00 672.00V669.20M390.00 672.00V669.20M392.00 672.00V669.20M396.00 672.00V669.20M440.00 672.00V669.20M444.60 672.00V669.20M479.00 672.00V669.20" stroke="#6070b0" stroke-width="1.1" fill="none"/>
</svg>
</body></html>
